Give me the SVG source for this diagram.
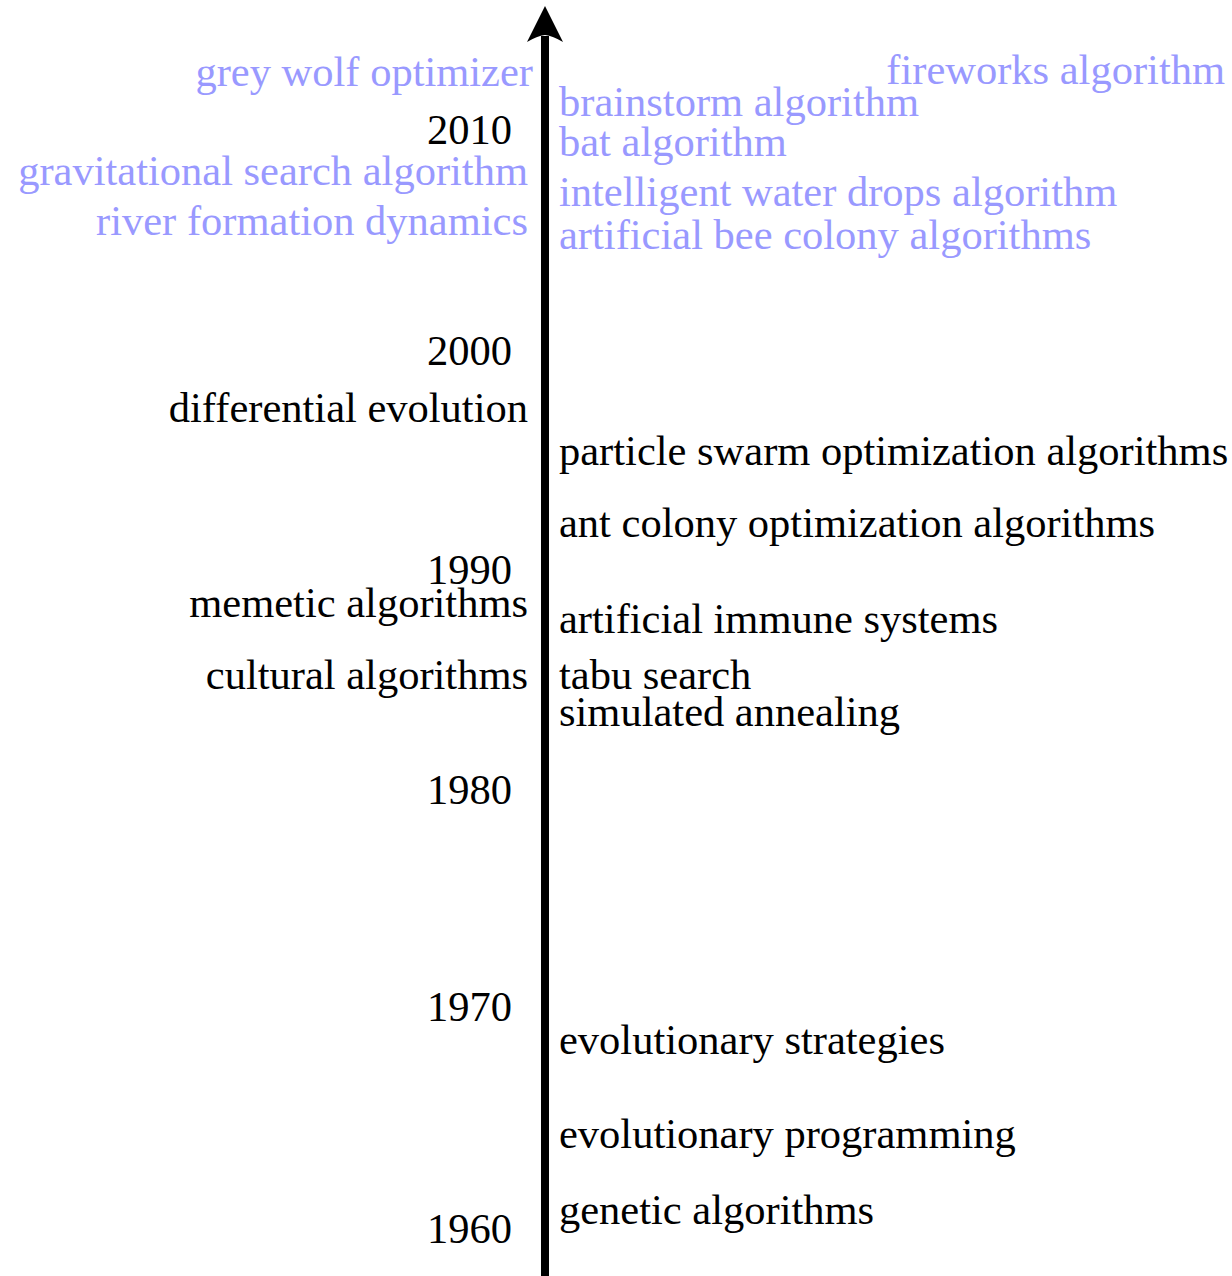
<svg xmlns="http://www.w3.org/2000/svg" width="1232" height="1276" viewBox="0 0 1232 1276">
<style>
text{font-family:"Liberation Serif","Times New Roman",serif;font-size:42.5px;fill:#000}
.b{fill:#9999ff}
.l{text-anchor:end}
</style>
<rect width="1232" height="1276" fill="#fff"/>
<g id="connectors">
<line x1="545" y1="1276" x2="545" y2="36" stroke="#000" stroke-width="8"/>
<path d="M545,6 L563,42 Q553,36 545,35 Q537,36 527,42 Z" fill="#000"/>
</g>
<g id="years">
<text class="l" x="512" y="144">2010</text>
<text class="l" x="512" y="365">2000</text>
<text class="l" x="512" y="584">1990</text>
<text class="l" x="512" y="804">1980</text>
<text class="l" x="512" y="1021">1970</text>
<text class="l" x="512" y="1243">1960</text>
</g>
<g id="left">
<text class="l b" x="533" y="86">grey wolf optimizer</text>
<text class="l b" x="528" y="185">gravitational search algorithm</text>
<text class="l b" x="528" y="235">river formation dynamics</text>
<text class="l" x="528" y="422">differential evolution</text>
<text class="l" x="528" y="617">memetic algorithms</text>
<text class="l" x="528" y="689">cultural algorithms</text>
</g>
<g id="right">
<text class="l b" x="1225" y="84">fireworks algorithm</text>
<text class="b" x="559" y="116">brainstorm algorithm</text>
<text class="b" x="559" y="156">bat algorithm</text>
<text class="b" x="559" y="206">intelligent water drops algorithm</text>
<text class="b" x="559" y="249">artificial bee colony algorithms</text>
<text x="559" y="465">particle swarm optimization algorithms</text>
<text x="559" y="537">ant colony optimization algorithms</text>
<text x="559" y="633">artificial immune systems</text>
<text x="559" y="689">tabu search</text>
<text x="559" y="726">simulated annealing</text>
<text x="559" y="1054">evolutionary strategies</text>
<text x="559" y="1148">evolutionary programming</text>
<text x="559" y="1224">genetic algorithms</text>
</g>
</svg>
